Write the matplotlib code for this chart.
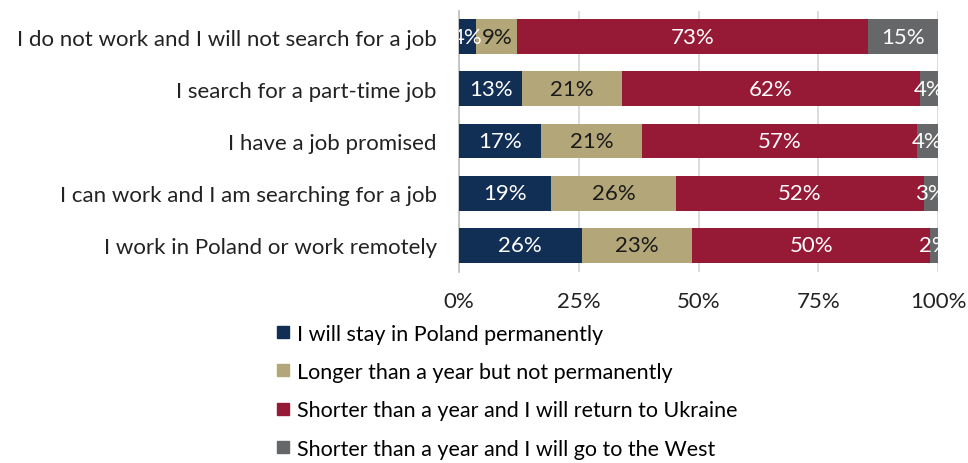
import numpy as np
import matplotlib
matplotlib.use('Agg')
import matplotlib.pyplot as plt
from matplotlib.lines import Line2D

plt.rcParams['font.family'] = ['Lato', 'DejaVu Sans']

# Share of respondents (%) by employment situation and planned length of stay
categories = [
    'I do not work and I will not search for a job',
    'I search for a part-time job',
    'I have a job promised',
    'I can work and I am searching for a job',
    'I work in Poland or work remotely',
]
series_names = [
    'I will stay in Poland permanently',
    'Longer than a year but not permanently',
    'Shorter than a year and I will return to Ukraine',
    'Shorter than a year and I will go to the West',
]
stay_permanent = [3.6, 13.2, 17.1, 19.3, 25.6]
longer_year = [8.6, 20.9, 21.1, 26.0, 23.1]
return_ukraine = [73.2, 62.1, 57.4, 51.7, 49.7]
go_west = [14.6, 3.8, 4.4, 3.0, 1.7]
xticks = [0, 25, 50, 75, 100]
xtick_labels = ['0%', '25%', '50%', '75%', '100%']

colors = ['#112f55', '#b3a679', '#961a36', '#666768']
text_colors = ['white', '#1a1a1a', 'white', 'white']
FS = 16

fig = plt.figure(figsize=(9.68, 4.64), dpi=100)
ax = fig.add_axes([459 / 968, 1 - 272.5 / 464, 479 / 968, 261 / 464])

y = np.arange(len(categories))[::-1]
left = np.zeros(len(categories))
for vals, col, tcol in zip([stay_permanent, longer_year, return_ukraine, go_west],
                           colors, text_colors):
    vals = np.array(vals)
    ax.barh(y, vals, left=left, height=0.67, color=col, zorder=3)
    for yi, l, v in zip(y, left, vals):
        ax.text(l + v / 2, yi, f'{v:.0f}%', ha='center', va='center',
                fontsize=FS, color=tcol, zorder=4, clip_on=True)
    left += vals

ax.set_xlim(0, 100)
ax.set_ylim(-0.5, len(categories) - 0.5)
ax.set_xticks(xticks)
ax.set_xticklabels(xtick_labels, fontsize=FS)
ax.set_yticks(y)
ax.set_yticklabels(categories, fontsize=FS)
ax.tick_params(axis='both', length=0, colors='#222222')
ax.tick_params(axis='y', pad=16)
ax.tick_params(axis='x', pad=14)
ax.xaxis.grid(True, color='#d6d6d6', lw=1.2, zorder=0)
for s in ['top', 'right', 'bottom']:
    ax.spines[s].set_visible(False)
ax.spines['left'].set_color('#bdbdbd')
ax.spines['left'].set_linewidth(1.2)

handles = [Line2D([0], [0], marker='s', ls='none', markersize=9,
                  markerfacecolor=c, markeredgecolor=c) for c in colors]
fig.legend(handles, series_names, loc='upper left',
           bbox_to_anchor=(268 / 968, 1 - 316 / 464), frameon=False,
           fontsize=15.5, handlelength=0.6, handletextpad=0.35,
           labelspacing=0.85, borderaxespad=0)

fig.savefig('out.png', dpi=100)
